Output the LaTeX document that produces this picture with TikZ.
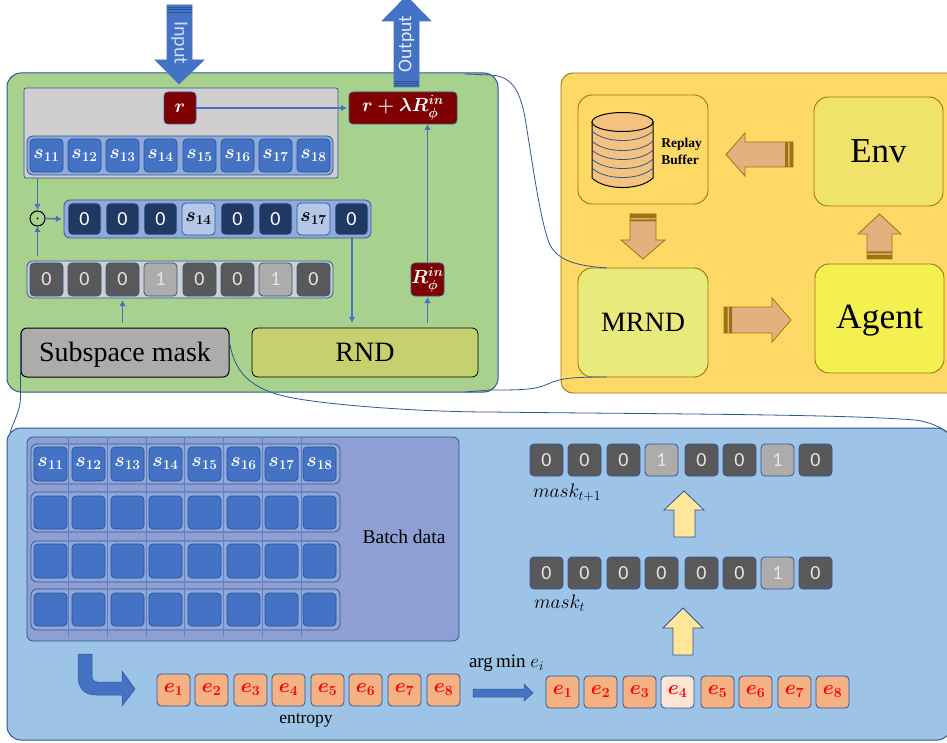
\documentclass[tikz,border=0pt]{standalone}
\usepackage{fix-cm}
\usepackage{fontspec}
\setmainfont{Liberation Serif}
\newfontfamily\calf{Carlito}
\usetikzlibrary{arrows.meta,calc}
\definecolor{bl}{HTML}{4472C4}
\definecolor{bld}{HTML}{2F5597}
\definecolor{blc}{HTML}{8FAADC}
\definecolor{dk}{HTML}{203864}
\definecolor{lt}{HTML}{B4C7E7}
\definecolor{gn}{HTML}{A9D18E}
\definecolor{gr}{HTML}{D0CECE}
\definecolor{gd}{HTML}{595959}
\definecolor{gl}{HTML}{AEABAB}
\definecolor{mr}{HTML}{7F0000}
\definecolor{rn}{HTML}{C5D06E}
\definecolor{yp}{HTML}{FFD966}
\definecolor{ye}{HTML}{F0E36C}
\definecolor{ym}{HTML}{E8EA7C}
\definecolor{ya}{HTML}{F4F04F}
\definecolor{tn}{HTML}{E4B07F}
\definecolor{tnd}{HTML}{9C7410}
\definecolor{bp}{HTML}{9DC3E6}
\definecolor{bb}{HTML}{8E9FD4}
\definecolor{or}{HTML}{F4B183}
\definecolor{orl}{HTML}{FBE5D6}
\definecolor{ya2}{HTML}{FFE699}
\definecolor{cyl}{HTML}{F4C27F}
\newcommand\bx[7]{\node[#1,minimum width={(#5-#3)*1pt},minimum height={(#6-#4)*1pt}] (#2) at ({(#3+#5)/2},{(#4+#6)/2}) {#7};}
\newcommand\tsz[1]{\fontsize{#1}{#1}\selectfont}
\tikzset{
 box/.style={draw,rounded corners=#1,inner sep=0pt,outer sep=0pt,line width=0.8pt},
 box/.default=4pt,
 panel/.style={box=14pt,draw=bld,line width=1pt},
 cellS/.style={box,draw=bld,fill=bl,text=white,font=\boldmath\tsz{19.5}},
 cellK/.style={box,draw=blc,fill=dk,text=white,font=\calf\tsz{20}},
 cellL/.style={box,draw=bld,fill=lt,text=black,font=\boldmath\tsz{19.5}},
 cellG/.style={box,draw=bld,fill=gd,text=white!90!black,font=\calf\tsz{20}},
 cellH/.style={box,draw=bld,fill=gl,text=white!90!black,font=\calf\tsz{20}},
 cellE/.style={box,draw=bld,fill=or,text=red,font=\boldmath\tsz{20}},
 cellF/.style={box,draw=bld,fill=orl,text=red,font=\boldmath\tsz{20}},
 cellR/.style={box,draw=bld,fill=mr,text=white,font=\boldmath\tsz{19}},
 rowbox/.style={box=6pt,draw=bld,fill=blc},
 stage/.style={box=14pt,draw=tnd,line width=0.9pt},
 conn/.style={draw=bl,line width=1.6pt,-{Latex[length=6pt,width=6.5pt]}},
 link/.style={draw=bld,line width=0.8pt},
 fatblue/.style={fill=bl,draw=bl,line width=0.6pt},
 fattan/.style={fill=tn,draw=tnd,line width=0.8pt},
 fatyel/.style={fill=ya2,draw=bld,line width=0.8pt},
 stripe/.style={fill=tnd,draw=none},
 lab/.style={inner sep=0pt,outer sep=0pt},
}
\begin{document}
\begin{tikzpicture}[x=1pt,y=-1pt]
\clip (0,0) rectangle (947,743);
\fill[white] (0,0) rectangle (947,743);
% ---------- green panel
\bx{panel,fill=gn}{green}{7}{73}{498}{392}{}
\bx{box=2pt,draw=bld,fill=gr}{graybox}{24}{88}{338}{178}{}
\bx{cellR}{r}{164}{92}{196}{124}{$r$}
\bx{cellR}{rsum}{349}{92}{457}{124}{$r+\lambda R_{\phi}^{in}$}
\bx{rowbox}{srow}{27}{136}{333}{175}{}
\foreach \i/\x in {1/30,2/68,3/106,4/144,5/183,6/221,7/259,8/297}{
  \bx{cellS}{s\i}{\x}{139}{\x+33}{172}{$s_{1\i}$\hspace{6pt}}
}
\bx{rowbox}{mrow}{64}{200}{371}{238}{}
\foreach \i/\x in {1/68,2/106,3/144,5/221,6/259,8/335}{
  \bx{cellK}{m\i}{\x}{203}{\x+33}{235}{0}
}
\bx{cellL}{m4}{182}{203}{215}{235}{$s_{14}$\hspace{2pt}}
\bx{cellL}{m7}{297}{203}{330}{235}{$s_{17}$\hspace{2pt}}
\bx{box=6pt,draw=bld,fill=gr}{krow}{27}{261}{333}{298}{}
\foreach \i/\x/\v/\st in {1/30/0/cellG,2/68/0/cellG,3/106/0/cellG,4/144/1/cellH,5/183/0/cellG,6/221/0/cellG,7/259/1/cellH,8/297/0/cellG}{
  \bx{\st}{k\i}{\x}{263}{\x+33}{296}{\v}
}
\bx{cellR}{rin}{411}{263}{444}{296}{$R_{\phi}^{in}$}
\bx{box=6pt,draw=black,fill=gl,line width=1pt}{sub}{21}{328}{229}{377}{}
\node[lab,font=\tsz{28}] (subt) at (125,355) {Subspace mask};
\bx{box=6pt,draw=black,fill=rn,line width=0.8pt,font=\tsz{28}}{rnd}{252}{328}{478}{377}{RND}
\node[circle,draw=black,fill=none,line width=1pt,minimum size=15pt,inner sep=0pt,outer sep=0pt] (odot) at (37.5,218.5) {};
\fill (odot.center) circle (1pt);
% green connectors
\draw[conn,shorten >=1pt] (odot |- graybox.south) -- (odot.north);
\draw[conn,shorten >=2pt] (odot.east) -- (mrow.west);
\draw[conn,shorten <=5pt] (odot |- krow.north) -- (odot.south);
\draw[conn,shorten <=5.5pt,shorten >=2pt] (sub.north -| k3) -- (k3 |- krow.south);
\draw[conn,shorten >=5pt] (352,238) -- (352,328);
\draw[conn,shorten <=5pt,shorten >=1pt] (rin |- rnd.north) -- (rin.south);
\draw[conn] (rin.north) -- (rin.north |- rsum.south);
\draw[conn,shorten >=2pt] (r.east) -- (rsum.west);
% input / output
\draw[fatblue] (167,5) -- (192,5) -- (192,60) -- (204,60) -- (179,84) -- (155,60) -- (167,60) -- cycle;
\draw[bld,line width=.5pt] (167,7) -- (192,7) (167,9) -- (192,9) (167,12) -- (192,12);
\node[lab,rotate=-90,text=white!75!bl,font=\calf\tsz{20}] (inp) at (179.5,43) {Input};
\draw[fatblue] (394,87) -- (419,87) -- (419,21) -- (431,21) -- (406.5,-4) -- (382,21) -- (394,21) -- cycle;
\draw[bld,line width=.5pt] (394,81) -- (419,81) (394,83) -- (419,83) (394,85) -- (419,85);
\node[lab,rotate=90,text=white!85!bl,font=\calf\tsz{19.5}] (out) at (406.5,44) {Output};
% ---------- yellow panel
\bx{box=12pt,draw=tnd,fill=yp,line width=.9pt}{yellow}{561}{73}{970}{393}{}
\bx{stage,fill=yp}{replay}{578}{95}{708}{204}{}
\bx{stage,fill=ye,font=\tsz{35}}{env}{814}{97}{943}{206}{Env}
\bx{stage,fill=ym,font=\tsz{28}}{mrnd}{578}{268}{708}{377}{MRND}
\bx{stage,fill=ya}{agent}{815}{264}{944}{373}{}
\node[lab,font=\tsz{35.5}] (agentt) at (879.5,321) {Agent};
% cylinder
\draw[fill=cyl,draw=black,line width=1pt] (592,122) -- (592,178) .. controls (605,190.7) and (640,190.7) .. (653,178) -- (653,122) -- cycle;
\foreach \Y in {131,141,150,159,168}{
  \draw[bld,line width=.8pt] (592,\Y) .. controls (605,\Y+12.7) and (640,\Y+12.7) .. (653,\Y);
}
\draw[fill=cyl,draw=black,line width=1pt] (622.5,122) ellipse [x radius=30.5,y radius=9.5];
\node[lab,align=left,font=\bfseries\tsz{13.5}] (rb) at (681.5,151.5) {Replay\\[3pt]Buffer};
% tan arrows
\draw[fattan] (793,142) -- (745,142) -- (745,133) -- (726,154.5) -- (745,176) -- (745,167) -- (793,167) -- cycle;
\fill[stripe] (785,142) rectangle (788,167) (789.5,142) rectangle (793,167);
\draw[fattan] (630,214) -- (630,240) -- (621,240) -- (643,259) -- (665,240) -- (656,240) -- (656,214) -- cycle;
\fill[stripe] (630,214) rectangle (656,218) (630,219.5) rectangle (656,221.5);
\draw[fattan] (724,307) -- (772,307) -- (772,298) -- (791,320) -- (772,342) -- (772,333) -- (724,333) -- cycle;
\fill[stripe] (724,307) rectangle (727.5,333) (729,307) rectangle (732,333);
\draw[fattan] (867,259) -- (867,234) -- (858,234) -- (879.5,214) -- (901,234) -- (892,234) -- (892,259) -- cycle;
\fill[stripe] (867,255) rectangle (892,259) (867,251.5) rectangle (892,253.5);
% links between panels
\coordinate (ga) at (465,74);
\coordinate (gb) at (465,392);
\coordinate (ma) at (607,268);
\coordinate (mb) at (607,377);
\draw[link] (ga) -- (490,75) .. controls (515,76) and (522,95) .. (527,130) .. controls (535,180) and (540,215) .. (548,240) .. controls (555,262) and (580,266) .. (ma);
\draw[link] (gb) -- (490,390) .. controls (520,390) and (535,390) .. (548,384) .. controls (560,378) and (575,377) .. (mb);
\coordinate (ba) at (947,432);
\coordinate (bc) at (10,433);
\draw[link] (sub.east |- 0,338) .. controls (233,372) and (250,390) .. (293,398) .. controls (330,405) and (420,412) .. (490,412) .. controls (650,414) and (840,414) .. (915,420) .. controls (930,422) and (940,427) .. (ba);
\draw[link] (20.5,333) -- (20.5,398) .. controls (20,412) and (13,422) .. (bc);
% ---------- blue panel
\bx{panel,fill=bp}{bluep}{7}{428}{951}{740}{}
\bx{box=6pt,draw=bld,fill=bb}{batch}{27}{437}{459}{641}{}
\foreach \Y/\Z/\n in {444/484/a,492/532/b,541/582/c,589/630/d}{
  \bx{box=6pt,draw=bld,fill=blc!70!bb,line width=.7pt}{row\n}{31}{\Y}{340}{\Z}{}
}
\foreach \x in {68,107,146,184,223,262,301}{
  \draw[bl!65!bb,line width=.5pt] (\x,438) -- (\x,637);
}
\foreach \i/\x in {1/34,2/72,3/111,4/149,5/188,6/227,7/265,8/303}{
  \bx{cellS}{ba\i}{\x}{447}{\x+33}{481}{$s_{1\i}$\hspace{6pt}}
  \bx{cellS}{bb\i}{\x}{496}{\x+33}{529}{}
  \bx{cellS}{bc\i}{\x}{544}{\x+33}{578}{}
  \bx{cellS}{bd\i}{\x}{593}{\x+33}{626}{}
}
\node[lab,font=\tsz{19.5}] (bdata) at (404,537) {Batch data};
\draw[fatblue,draw=bld,line width=.5pt] (78,654) -- (78,676) .. controls (78,688) and (84,695) .. (96,695) -- (122,695) -- (122,706) -- (135,689) -- (122,671) -- (122,682) -- (98,682) .. controls (94,682) and (92,680) .. (92,676) -- (92,654) -- cycle;
\foreach \i/\x in {1/157,2/195,3/234,4/272,5/311,6/349,7/388,8/427}{
  \bx{cellE}{e\i}{\x}{674}{\x+33}{706}{$e_{\i}$\hspace{5pt}}
}
\node[lab,font=\tsz{17.5}] (ent) at (306,720) {entropy};
\node[lab,font=\tsz{19}] (amin) at (506.5,663) {arg\,min $e_i$};
\draw[fatblue,draw=bld,line width=.5pt] (473,689) -- (524,689) -- (524,684) -- (533,693) -- (524,701) -- (524,697) -- (473,697) -- cycle;
\foreach \i/\x/\st in {1/546/cellE,2/584/cellE,3/623/cellE,4/661/cellF,5/701/cellE,6/739/cellE,7/778/cellE,8/816/cellE}{
  \bx{\st}{f\i}{\x}{676}{\x+33}{708}{$e_{\i}$\hspace{5pt}}
}
\foreach \i/\x/\st/\v in {1/530/cellG/0,2/568/cellG/0,3/607/cellG/0,4/645/cellG/0,5/685/cellG/0,6/723/cellG/0,7/761/cellH/1,8/799/cellG/0}{
  \bx{\st}{u\i}{\x}{557}{\x+33}{589}{\v}
}
\foreach \i/\x/\st/\v in {1/530/cellG/0,2/568/cellG/0,3/607/cellG/0,4/645/cellH/1,5/685/cellG/0,6/723/cellG/0,7/761/cellH/1,8/799/cellG/0}{
  \bx{\st}{v\i}{\x}{444}{\x+33}{476}{\v}
}
\node[lab,anchor=west,font=\tsz{19.5}] (mt1) at (533,493) {$mask_{t+1}$};
\node[lab,anchor=west,font=\tsz{19.5}] (mt) at (534,603) {$mask_{t}$};
\draw[fatyel] (674,537) -- (674,510) -- (664,510) -- (684,491) -- (704,510) -- (695,510) -- (695,537) -- cycle;
\draw[fatyel] (673,655) -- (673,628) -- (663,628) -- (683,608) -- (703,628) -- (693,628) -- (693,655) -- cycle;
\end{tikzpicture}
\end{document}
